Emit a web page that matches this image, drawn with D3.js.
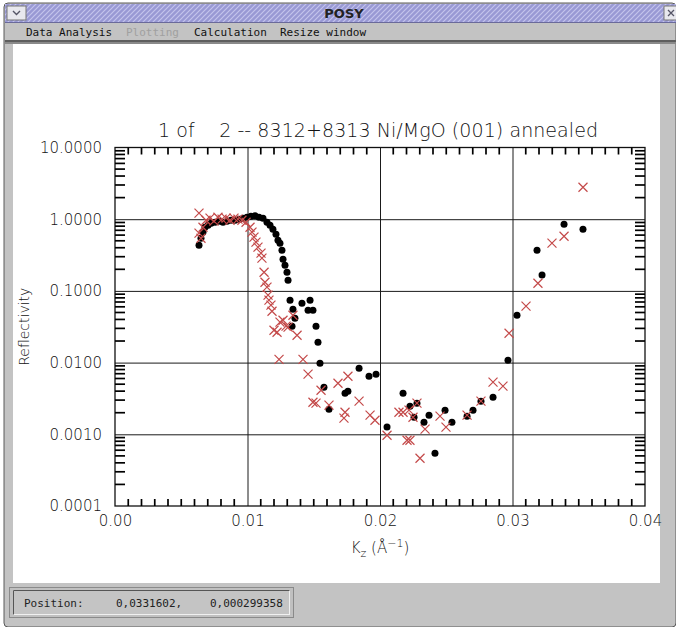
<!DOCTYPE html>
<html>
<head>
<meta charset="utf-8">
<script src="https://cdn.jsdelivr.net/npm/d3@7"></script>
<style>
  body { margin: 0; background: #fff; }
  svg { display: block; }
  .tick text { font-family: "DejaVu Sans", sans-serif; font-weight: 300; }
</style>
</head>
<body>
<script>
// chart text
var titleText = "1 of    2 -- 8312+8313 Ni/MgO (001) annealed";
var menuItems = ["Data Analysis", "Plotting", "Calculation", "Resize window"];
var statusText = ["Position:", "0,0331602,", "0,000299358"];

// axis ticks
var xTicks = [0, 0.01, 0.02, 0.03, 0.04];
var xTickLabels = ["0.00", "0.01", "0.02", "0.03", "0.04"];
var yTicks = [0.0001, 0.001, 0.01, 0.1, 1, 10];
var yTickLabels = ["0.0001", "0.0010", "0.0100", "0.1000", "1.0000", "10.0000"];
var xMinorStep = 0.001;
var yMinorMult = [2, 3, 4, 5, 6, 7, 8, 9];

// black dots (Kz, reflectivity)
var kzBlack = [0.00634, 0.00649, 0.00664, 0.00679, 0.00702, 0.00725, 0.00755, 0.00785, 0.00815, 0.00845,
  0.00875, 0.00906, 0.00936, 0.00966, 0.00996, 0.01026, 0.01057, 0.01087, 0.01117, 0.01147,
  0.01170, 0.01192, 0.01215, 0.01230, 0.01245, 0.01260, 0.01268, 0.01283, 0.01298, 0.01306,
  0.01321, 0.01343, 0.01358, 0.01336, 0.01411, 0.01472, 0.01457, 0.01494, 0.01517, 0.01532,
  0.01547, 0.01577, 0.01615, 0.01736, 0.01758, 0.01842, 0.01917, 0.01970, 0.02053, 0.02174,
  0.02226, 0.02279, 0.02257, 0.02332, 0.02370, 0.02415, 0.02491, 0.02543, 0.02657, 0.02702,
  0.02762, 0.02853, 0.02966, 0.03034, 0.03185, 0.03223, 0.03389, 0.03532];
var rBlack = [0.434, 0.543, 0.659, 0.773, 0.825, 0.880, 0.908, 0.938, 0.908, 0.938,
  0.968, 0.968, 1.0, 1.033, 1.066, 1.10, 1.12, 1.066, 1.03, 0.908,
  0.825, 0.726, 0.618, 0.510, 0.463, 0.370, 0.277, 0.228, 0.182, 0.141,
  0.0742, 0.0556, 0.0416, 0.0322, 0.0673, 0.0742, 0.0538, 0.0538, 0.0322, 0.0193,
  0.00981, 0.00454, 0.00224, 0.00374, 0.00399, 0.00835, 0.00646, 0.00689, 0.00126, 0.00374,
  0.00247, 0.00272, 0.00173, 0.00147, 0.00185, 0.000545, 0.00217, 0.00147, 0.00179, 0.00217,
  0.00290, 0.00329, 0.0108, 0.0458, 0.370, 0.166, 0.852, 0.726];

// red crosses (Kz, reflectivity)
var kzRed = [0.00634, 0.00634, 0.00649, 0.00664, 0.00687, 0.00717, 0.00747, 0.00777, 0.00808, 0.00838,
  0.00868, 0.00898, 0.00928, 0.00958, 0.00989, 0.01019, 0.01034, 0.01049, 0.01064, 0.01079,
  0.01102, 0.01109, 0.01125, 0.01132, 0.01147, 0.01155, 0.01162, 0.01177, 0.01185, 0.01200,
  0.01223, 0.01245, 0.01268, 0.01291, 0.01306, 0.01343, 0.01374, 0.01238, 0.01419, 0.01457,
  0.01555, 0.01683, 0.01758, 0.01494, 0.01517, 0.01615, 0.01736, 0.01728, 0.01842, 0.01925,
  0.01962, 0.02053, 0.02143, 0.02174, 0.02219, 0.02279, 0.02249, 0.02340, 0.02204, 0.02226,
  0.02302, 0.02453, 0.02498, 0.02657, 0.02762, 0.02853, 0.02928, 0.02974, 0.03102, 0.03192,
  0.03298, 0.03389, 0.03532];
var rRed = [1.213, 0.638, 0.543, 0.773, 0.968, 1.033, 0.938, 1.066, 1.0, 1.033,
  0.968, 1.033, 1.0, 0.968, 0.908, 0.773, 0.659, 0.561, 0.478, 0.407,
  0.336, 0.286, 0.182, 0.132, 0.113, 0.0871, 0.0742, 0.0632, 0.0521, 0.0283,
  0.0265, 0.0366, 0.0390, 0.0322, 0.0312, 0.0458, 0.0241, 0.0111, 0.0111, 0.00689,
  0.00412, 0.00516, 0.00646, 0.00280, 0.00272, 0.00255, 0.00203, 0.00168, 0.00290, 0.00185,
  0.00157, 0.000971, 0.00203, 0.00203, 0.00217, 0.00272, 0.00173, 0.00118, 0.000827, 0.000827,
  0.000464, 0.00179, 0.00126, 0.00185, 0.00290, 0.00533, 0.00469, 0.0257, 0.0612, 0.128,
  0.463, 0.579, 2.79];

var W = 676, H = 627;
var svg = d3.select("body").append("svg")
    .attr("width", W)
    .attr("height", H);

// ---- window chrome ----
var defs = svg.append("defs");
var pat = defs.append("pattern")
    .attr("id", "hatch")
    .attr("patternUnits", "userSpaceOnUse")
    .attr("width", 5).attr("height", 5);
pat.append("rect").attr("width", 5).attr("height", 5).attr("fill", "#9999d4");
pat.append("path").attr("d", "M0,5 L5,0 M-1,1 L1,-1 M4,6 L6,4")
    .attr("stroke", "#c4c4ec").attr("stroke-width", 1.2);

svg.append("rect").attr("width", W).attr("height", H).attr("fill", "#fff");
// frame
svg.append("rect").attr("x", 4).attr("y", 3).attr("width", W - 4).attr("height", H - 3)
    .attr("rx", 4).attr("fill", "#c3c3c3").attr("stroke", "#5a5a5a").attr("stroke-width", 1);
// title bar
svg.append("rect").attr("x", 5).attr("y", 4).attr("width", W - 5).attr("height", 18)
    .attr("fill", "url(#hatch)");
svg.append("line").attr("x1", 5).attr("x2", W).attr("y1", 22.5).attr("y2", 22.5)
    .attr("stroke", "#6a6a9a");
svg.append("rect").attr("x", 7).attr("y", 6).attr("width", 19).attr("height", 14)
    .attr("fill", "#e8e8ee").attr("stroke", "#777");
svg.append("path").attr("d", "M13,11 L16.5,14.5 L20,11").attr("fill", "none")
    .attr("stroke", "#556").attr("stroke-width", 1.4);
svg.append("rect").attr("x", 664).attr("y", 6).attr("width", 20).attr("height", 14)
    .attr("fill", "#e8e8ee").attr("stroke", "#777");
svg.append("path").attr("d", "M668,10 L674,16 M674,10 L668,16").attr("fill", "none")
    .attr("stroke", "#556").attr("stroke-width", 1.3);
svg.append("text").attr("x", 344).attr("y", 18).attr("text-anchor", "middle")
    .text("POSY")
    .style("font-family", "DejaVu Sans").style("font-weight", "bold").style("font-size", "13px")
    .attr("fill", "#222");

// menu bar
var menuX = [26, 126, 194, 280];
svg.selectAll(".menu").data(menuItems).enter().append("text")
    .attr("class", "menu")
    .attr("x", function(d, i) { return menuX[i]; })
    .attr("y", 36)
    .attr("fill", function(d, i) { return i == 1 ? "#a0a0a0" : "#111"; })
    .style("font-family", "DejaVu Sans Mono").style("font-size", "11px")
    .text(function(d) { return d; });
svg.append("rect").attr("x", 5).attr("y", 40).attr("width", W - 5).attr("height", 2).attr("fill", "#5e5e5e");
svg.append("rect").attr("x", 5).attr("y", 42).attr("width", W - 5).attr("height", 2).attr("fill", "#8a8a8a");

// drawing area
svg.append("rect").attr("x", 13).attr("y", 44).attr("width", 647).attr("height", 539).attr("fill", "#fff");

// status bar
svg.append("rect").attr("x", 9.5).attr("y", 587.5).attr("width", 284).attr("height", 30)
    .attr("fill", "#c0c0c0").attr("stroke", "#8a8a8a");
svg.append("rect").attr("x", 13.5).attr("y", 590.5).attr("width", 276).attr("height", 24)
    .attr("fill", "#c4c4c4").attr("stroke", "#f0f0f0");
svg.append("path").attr("d", "M13.5,614.5 L13.5,590.5 L289.5,590.5")
    .attr("fill", "none").attr("stroke", "#555");
var statusX = [24, 116, 210];
svg.selectAll(".status").data(statusText).enter().append("text")
    .attr("class", "status")
    .attr("x", function(d, i) { return statusX[i]; })
    .attr("y", 607)
    .style("font-family", "DejaVu Sans Mono").style("font-size", "11px")
    .attr("fill", "#222")
    .text(function(d) { return d; });

// ---- plot ----
var x = d3.scaleLinear().domain([0, 0.04]).range([115, 645]);
var y = d3.scaleLog().domain([0.0001, 10]).range([506, 147.5]);
var pLeft = 115, pRight = 645, pTop = 147.5, pBottom = 506;

var plot = svg.append("g");

function noDomain(g) { g.select(".domain").remove(); }

// grid
plot.append("g").attr("transform", "translate(0," + pBottom + ")")
    .call(d3.axisBottom(x).tickValues(xTicks.slice(1, -1)).tickSize(-(pBottom - pTop)).tickFormat(""))
    .call(noDomain)
    .selectAll("line").attr("stroke", "#1a1a1a");
plot.append("g").attr("transform", "translate(" + pLeft + ",0)")
    .call(d3.axisLeft(y).tickValues(yTicks.slice(1, -1)).tickSize(-(pRight - pLeft)).tickFormat(""))
    .call(noDomain)
    .selectAll("line").attr("stroke", "#1a1a1a");

// labels
plot.append("g").attr("transform", "translate(0," + pBottom + ")")
    .call(d3.axisBottom(x).tickValues(xTicks).tickSize(0).tickPadding(9)
      .tickFormat(function(d, i) { return xTickLabels[i]; }))
    .call(noDomain)
    .selectAll("text").style("font-size", "15px").attr("fill", "#111");
plot.append("g").attr("transform", "translate(" + pLeft + ",0)")
    .call(d3.axisLeft(y).tickValues(yTicks).tickSize(0).tickPadding(13)
      .tickFormat(function(d, i) { return yTickLabels[i]; }))
    .call(noDomain)
    .selectAll("text").style("font-size", "15px").attr("fill", "#111");

// frame
plot.append("rect")
    .attr("x", pLeft).attr("y", pTop)
    .attr("width", pRight - pLeft).attr("height", pBottom - pTop)
    .attr("fill", "none").attr("stroke", "#111").attr("stroke-width", 1.3);

// minor ticks, pointing inwards on all four sides
var xMinor = [];
for (var i = 1; i < 40; i++) { if (i % 10 != 0) xMinor.push(i * xMinorStep); }
var yMinor = [];
yTicks.slice(0, -1).forEach(function(t) {
  yMinorMult.forEach(function(m) { yMinor.push(t * m); });
});

var tg = plot.append("g");
tg.selectAll("line.xb").data(xMinor).enter().append("line")
    .attr("class", "xb")
    .attr("x1", function(d) { return x(d); }).attr("x2", function(d) { return x(d); })
    .attr("y1", pBottom).attr("y2", pBottom - 7);
tg.selectAll("line.xt").data(xMinor).enter().append("line")
    .attr("class", "xt")
    .attr("x1", function(d) { return x(d); }).attr("x2", function(d) { return x(d); })
    .attr("y1", pTop).attr("y2", pTop + 7);
tg.selectAll("line.yl").data(yMinor).enter().append("line")
    .attr("class", "yl")
    .attr("y1", function(d) { return y(d); }).attr("y2", function(d) { return y(d); })
    .attr("x1", pLeft).attr("x2", pLeft + 10);
tg.selectAll("line.yr").data(yMinor).enter().append("line")
    .attr("class", "yr")
    .attr("y1", function(d) { return y(d); }).attr("y2", function(d) { return y(d); })
    .attr("x1", pRight).attr("x2", pRight - 10);
tg.selectAll("line")
    .style("stroke", "#000")
    .style("stroke-width", "1.7px");

// title
plot.append("text")
    .attr("x", (pLeft + pRight) / 2 - 2).attr("y", 137)
    .attr("text-anchor", "middle")
    .attr("textLength", 440).attr("lengthAdjust", "spacing")
    .style("white-space", "pre")
    .style("font-family", "DejaVu Sans").style("font-weight", "300").style("font-size", "19px")
    .attr("fill", "#111")
    .text(titleText);

// axis titles
var xl = plot.append("text")
    .attr("x", (pLeft + pRight) / 2).attr("y", 553)
    .attr("text-anchor", "middle")
    .style("font-family", "DejaVu Sans").style("font-weight", "300").style("font-size", "15px")
    .attr("fill", "#111");
xl.append("tspan").text("K");
xl.append("tspan").attr("dy", 4).style("font-size", "11px").text("z");
xl.append("tspan").attr("dy", -4).text(" (Å");
xl.append("tspan").attr("dy", -6).style("font-size", "11px").text("−1");
xl.append("tspan").attr("dy", 6).text(")");

plot.append("text")
    .attr("transform", "translate(29," + ((pTop + pBottom) / 2) + ") rotate(-90)")
    .attr("text-anchor", "middle")
    .style("font-family", "DejaVu Sans").style("font-weight", "300").style("font-size", "14px")
    .attr("fill", "#111")
    .text("Reflectivity");

// data
var blackData = kzBlack.map(function(d, i) { return [d, rBlack[i]]; });
var redData = kzRed.map(function(d, i) { return [d, rRed[i]]; });

plot.append("g").selectAll("circle").data(blackData).enter().append("circle")
    .attr("cx", function(d) { return x(d[0]); })
    .attr("cy", function(d) { return y(d[1]); })
    .attr("r", 3.5)
    .attr("fill", "#000");

var s = 4.5;
plot.append("g").selectAll("path").data(redData).enter().append("path")
    .attr("transform", function(d) { return "translate(" + x(d[0]) + "," + y(d[1]) + ")"; })
    .attr("d", "M" + (-s) + "," + (-s) + "L" + s + "," + s + "M" + (-s) + "," + s + "L" + s + "," + (-s))
    .attr("stroke", "#c44a4a")
    .attr("stroke-width", 1.2)
    .attr("fill", "none");
</script>
</body>
</html>
